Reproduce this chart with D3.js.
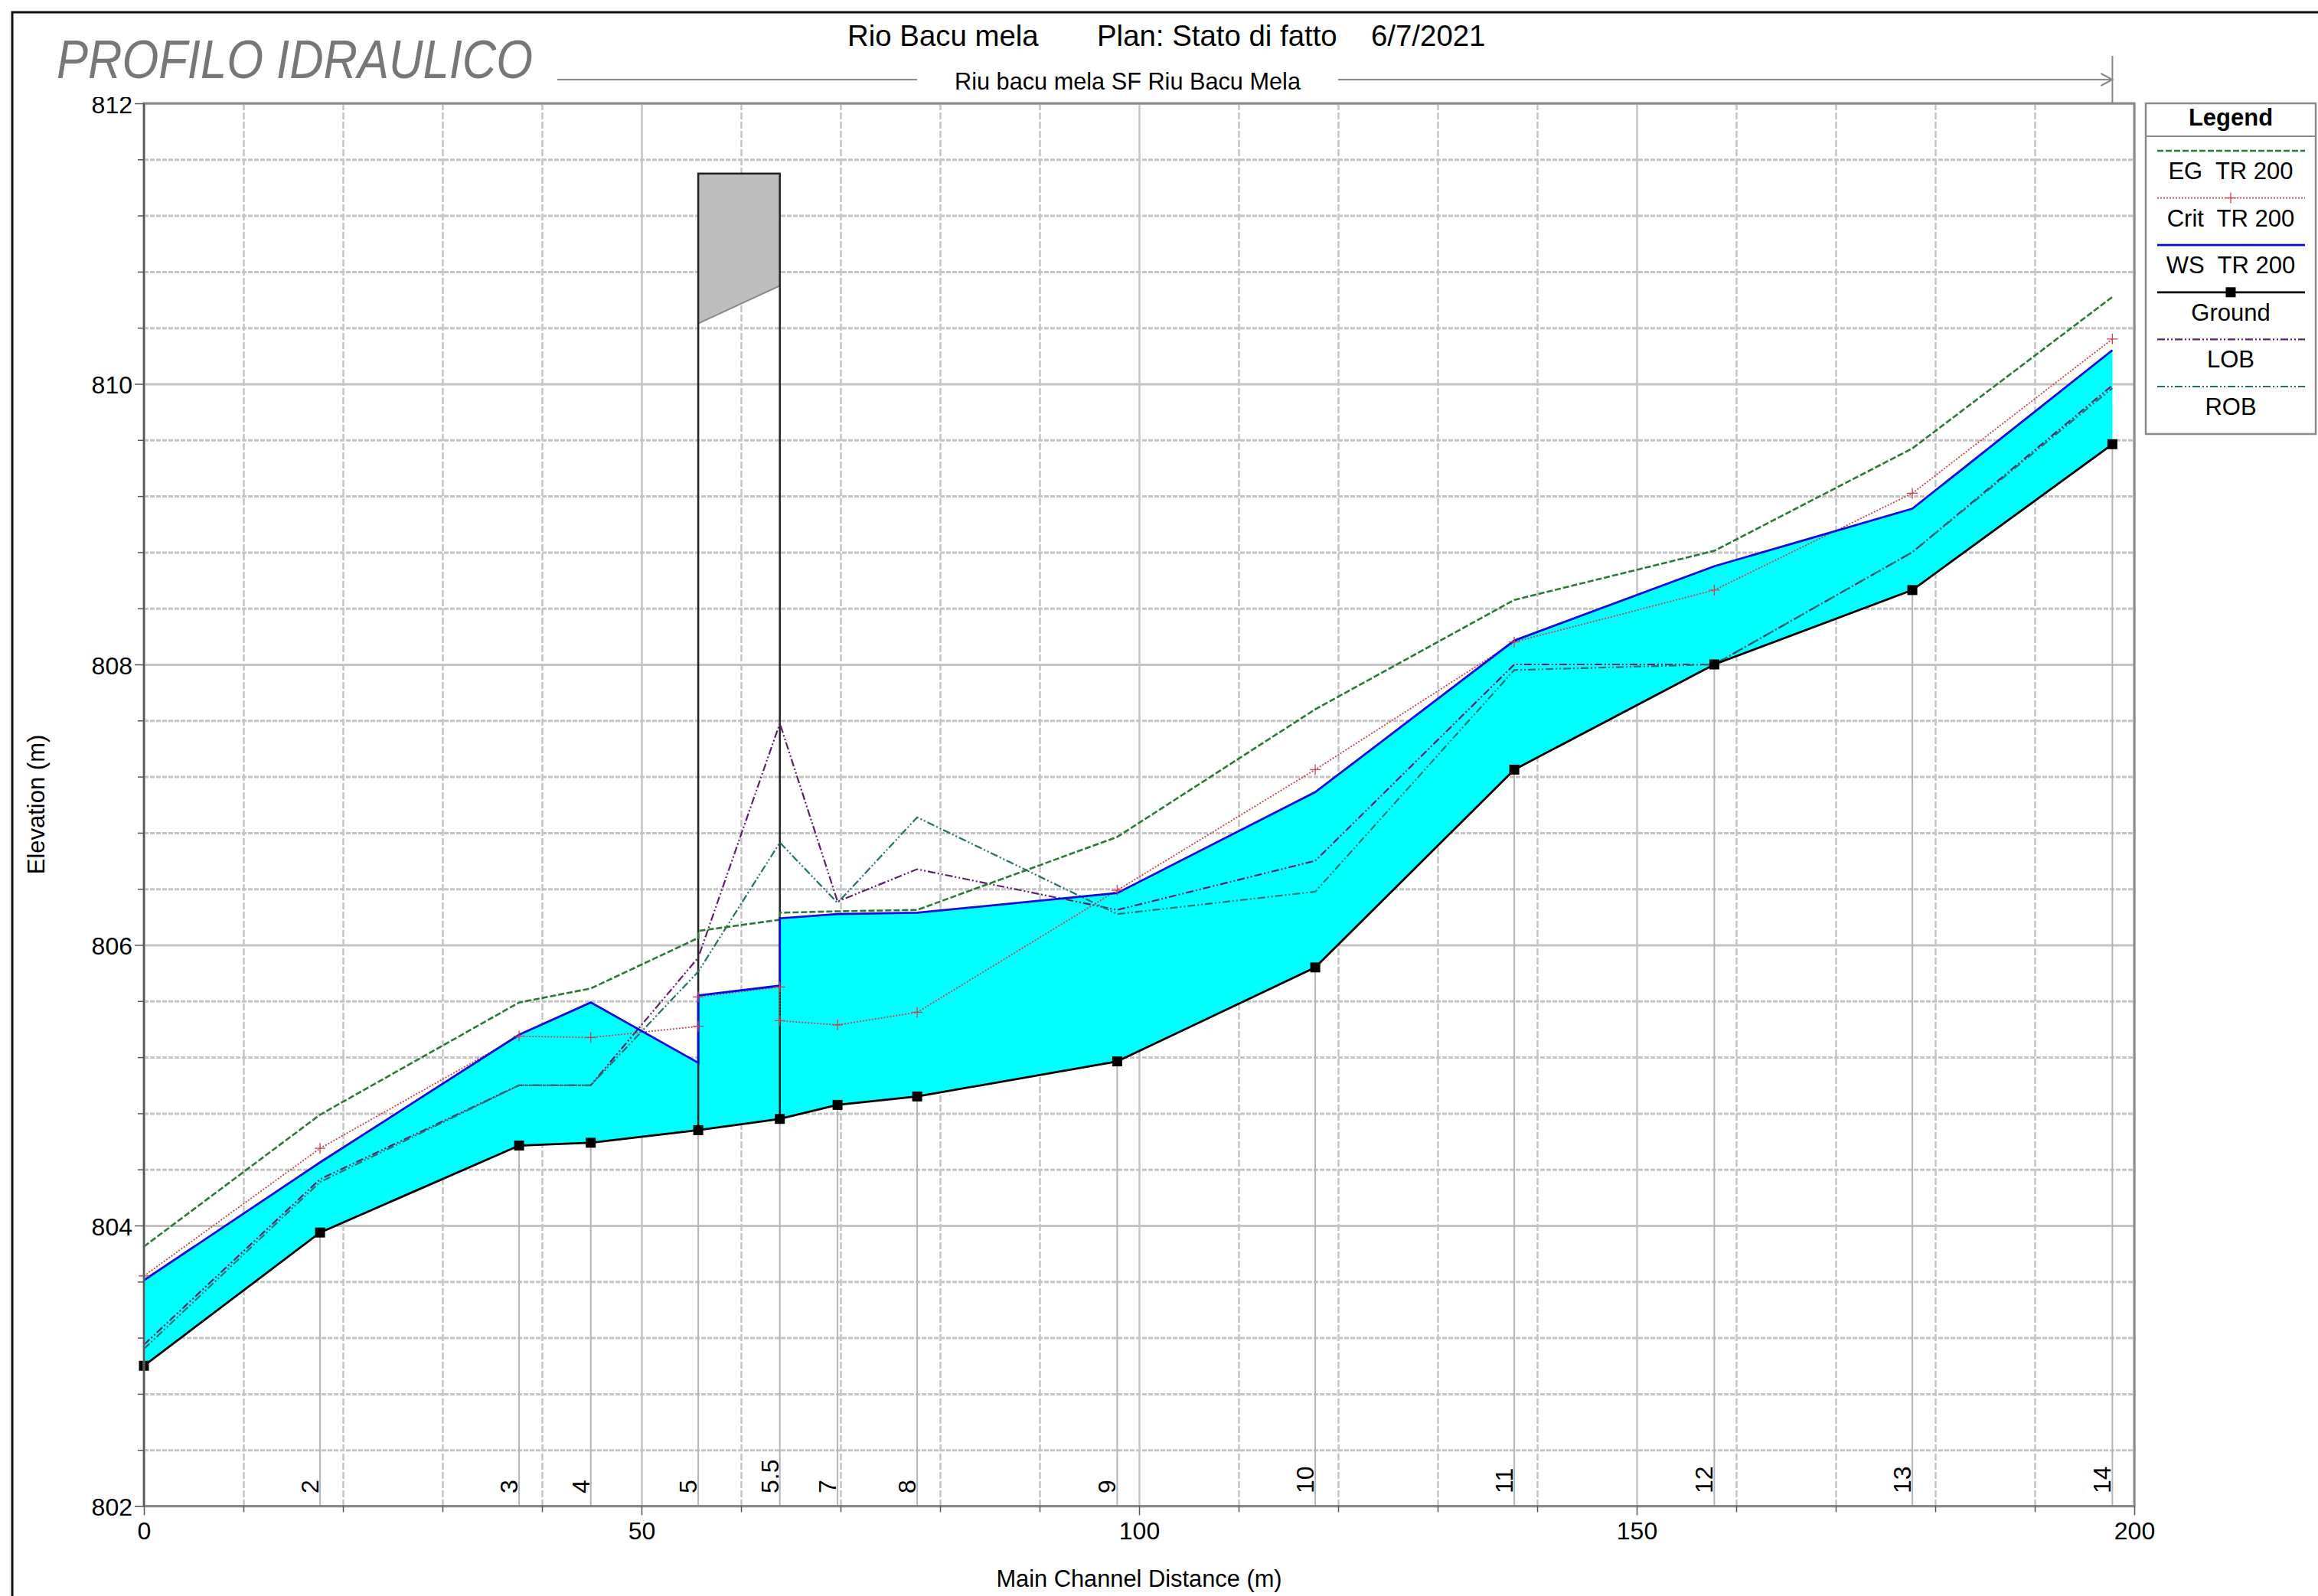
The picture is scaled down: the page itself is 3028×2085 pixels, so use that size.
<!DOCTYPE html>
<html>
<head>
<meta charset="utf-8">
<title>Profilo idraulico</title>
<script src="https://cdn.jsdelivr.net/npm/d3@7"></script>
<style>
  html, body { margin: 0; padding: 0; background: #fff; }
  svg { display: block; }
  text { font-family: "Liberation Sans", Arial, sans-serif; fill: #000; white-space: pre; }
</style>
</head>
<body>
<svg id="chart"></svg>
<script>
// 1] data -------------------------------------------//
const stationLabels = ["", "2", "3", "4", "5", "5.5", "7", "8", "9", "10", "11", "12", "13", "14"];
const stationDist = [0, 17.7, 37.7, 44.9, 55.7, 63.9, 69.7, 77.7, 97.8, 117.7, 137.7, 157.8, 177.7, 197.8];
// water profiles have two values at the bridge faces
const profileDist = [0, 17.7, 37.7, 44.9, 55.7, 55.7, 63.9, 63.9, 69.7, 77.7, 97.8, 117.7, 137.7, 157.8, 177.7, 197.8];

const ground = [803.0, 803.95, 804.57, 804.59, 804.68, 804.76, 804.86, 804.92, 805.17, 805.84, 807.25, 808.0, 808.53, 809.57];
const lob = [803.15, 804.33, 805.0, 805.0, 805.91, 807.58, 806.31, 806.54, 806.25, 806.6, 808.0, 808.0, 808.8, 809.99];
const rob = [803.12, 804.31, 805.0, 805.0, 805.81, 806.73, 806.3, 806.91, 806.22, 806.38, 807.96, 808.0, 808.8, 809.97];
const ws = [803.61, 804.45, 805.36, 805.59, 805.16, 805.64, 805.71, 806.19, 806.22, 806.23, 806.37, 807.09, 808.17, 808.7, 809.11, 810.24];
const eg = [803.85, 804.79, 805.59, 805.69, 806.05, 806.1, 806.18, 806.23, 806.24, 806.25, 806.77, 807.68, 808.46, 808.81, 809.54, 810.62];
const crit = [803.64, 804.55, 805.35, 805.34, 805.42, 805.63, 805.7, 805.46, 805.43, 805.52, 806.39, 807.25, 808.16, 808.53, 809.22, 810.32];

// bridge deck, low chord and top of road
const bridgeDist = [55.7, 63.9];
const bridgeTop = [811.5, 811.5];
const bridgeLow = [810.43, 810.7];

const xTicks = [0, 50, 100, 150, 200];
const yTicks = [802, 804, 806, 808, 810, 812];
const xMinor = d3.range(10, 200, 10).filter(d => d % 50 !== 0);
const yMinor = d3.range(802.4, 812, 0.4).filter(d => Math.abs(d % 2) > 0.01 && Math.abs(d % 2 - 2) > 0.01);

const legendNames = ["EG  TR 200", "Crit  TR 200", "WS  TR 200", "Ground", "LOB", "ROB"];

// 2] canvas and scales -------------------------------//
const width = 3028, height = 2085;
const left = 188, right = 2788, top_ = 135, bottom = 1967.5;

const svg = d3.select("#chart").attr("width", width).attr("height", height);

const xScale = d3.scaleLinear().domain([0, 200]).range([left, right]);
const yScale = d3.scaleLinear().domain([802, 812]).range([bottom, top_]);

const colors = { eg: "#2a7a34", crit: "#d0404c", ws: "#0a0ae0", ground: "#000", lob: "#5e1f6e", rob: "#22706c" };
const grid = "#c4c4c4";

const line = d3.line().x(d => xScale(d[0])).y(d => yScale(d[1]));
const pts = (xs, ys) => xs.map((d, i) => [d, ys[i]]);

// outer frame runs off the page on the right and bottom
svg.append("rect").attr("x", 16).attr("y", 16).attr("width", width).attr("height", height)
  .attr("fill", "none").attr("stroke", "#111").attr("stroke-width", 3);

// 3] grid --------------------------------------------//
function gridStyle(g, dash, sw) {
  g.select(".domain").remove();
  g.selectAll("text").remove();
  g.selectAll("line").attr("stroke", grid).attr("stroke-width", sw).attr("stroke-dasharray", dash);
}
svg.append("g").attr("transform", `translate(${left},0)`)
  .call(d3.axisLeft(yScale).tickValues(yMinor).tickSize(-(right - left)))
  .call(gridStyle, "6 2", 3);
svg.append("g").attr("transform", `translate(0,${top_})`)
  .call(d3.axisTop(xScale).tickValues(xMinor).tickSize(-(bottom - top_)))
  .call(gridStyle, "9 3", 2.5);
svg.append("g").attr("transform", `translate(${left},0)`)
  .call(d3.axisLeft(yScale).tickValues(yTicks).tickSize(-(right - left)))
  .call(gridStyle, null, 3);
svg.append("g").attr("transform", `translate(0,${top_})`)
  .call(d3.axisTop(xScale).tickValues(xTicks).tickSize(-(bottom - top_)))
  .call(gridStyle, null, 2.5);

// 4] cross section drop lines, water fill, bridge -----//
svg.append("g").selectAll("line").data(stationDist).join("line")
  .attr("x1", d => xScale(d)).attr("x2", d => xScale(d))
  .attr("y1", (d, i) => yScale(ground[i])).attr("y2", bottom)
  .attr("stroke", "#b4b4b4").attr("stroke-width", 2);

const waterOutline = pts(profileDist, ws).concat(pts(stationDist, ground).reverse());
svg.append("path").attr("d", line(waterOutline) + "Z").attr("fill", "#00ffff");

// deck, then the two piers down to the ground
const deck = pts(bridgeDist, bridgeTop).concat(pts(bridgeDist, bridgeLow).reverse());
svg.append("path").attr("d", line(deck) + "Z")
  .attr("fill", "#bebebe").attr("stroke", "none");
svg.append("path").attr("d", line(pts(bridgeDist, bridgeLow)))
  .attr("fill", "none").attr("stroke", "#888").attr("stroke-width", 2);
const pierPath = line([[bridgeDist[0], ground[4]], [bridgeDist[0], bridgeTop[0]], [bridgeDist[1], bridgeTop[1]], [bridgeDist[1], ground[5]]]);
svg.append("path").attr("d", pierPath).attr("fill", "none").attr("stroke", "#222").attr("stroke-width", 2.5);

// 5] profile lines -----------------------------------//
const series = [
  { x: stationDist, y: lob, color: colors.lob, dash: "10 3 2 3 2 3", sw: 2.2 },
  { x: stationDist, y: rob, color: colors.rob, dash: "10 3 2 3 2 3", sw: 2.2 },
  { x: profileDist, y: eg, color: colors.eg, dash: "8 3", sw: 2.6 },
  { x: profileDist, y: crit, color: colors.crit, dash: "2 2", sw: 1.8 },
  { x: profileDist, y: ws, color: colors.ws, dash: null, sw: 2.8 },
  { x: stationDist, y: ground, color: colors.ground, dash: null, sw: 2.8 },
];
series.forEach(s => {
  svg.append("path").attr("d", line(pts(s.x, s.y)))
    .attr("fill", "none").attr("stroke", s.color)
    .attr("stroke-width", s.sw).attr("stroke-dasharray", s.dash);
});

const plusPath = r => `M${-r},0H${r}M0,${-r}V${r}`;
svg.append("g").selectAll("path").data(pts(profileDist, crit)).join("path")
  .attr("d", plusPath(7))
  .attr("transform", d => `translate(${xScale(d[0])},${yScale(d[1])})`)
  .attr("fill", "none").attr("stroke", colors.crit).attr("stroke-width", 1.3);

svg.append("g").selectAll("rect").data(pts(stationDist, ground)).join("rect")
  .attr("x", d => xScale(d[0]) - 6.5).attr("y", d => yScale(d[1]) - 6.5)
  .attr("width", 13).attr("height", 13).attr("fill", "#000");

// 6] station labels ----------------------------------//
svg.append("g").selectAll("text").data(stationDist).join("text")
  .attr("transform", d => `translate(${xScale(d) - 2},1951) rotate(-90)`)
  .attr("font-size", 32)
  .text((d, i) => stationLabels[i]);

// 7] axes and plot frame -----------------------------//
svg.append("rect").attr("x", left).attr("y", top_)
  .attr("width", right - left).attr("height", bottom - top_)
  .attr("fill", "none").attr("stroke", "#8a8a8a").attr("stroke-width", 3);
svg.append("line").attr("x1", left).attr("x2", left).attr("y1", top_).attr("y2", bottom)
  .attr("stroke", "#444").attr("stroke-width", 1.5);

function axisStyle(g) {
  g.select(".domain").remove();
  g.selectAll("line").attr("stroke", "#555").attr("stroke-width", 1.5);
  g.selectAll("text").attr("font-size", 32).attr("fill", "#000").attr("font-family", '"Liberation Sans", Arial, sans-serif');
}
// top label is cut by the header band in the original
svg.append("clipPath").attr("id", "axis-clip").append("rect")
  .attr("x", -left).attr("y", 127).attr("width", width).attr("height", height);
svg.append("g").attr("transform", `translate(${left},0)`).attr("clip-path", "url(#axis-clip)")
  .call(d3.axisLeft(yScale).tickValues(yTicks).tickSize(12).tickPadding(3).tickFormat(d3.format("d")))
  .call(axisStyle)
  .call(g => g.selectAll("text").attr("dy", "0.38em"));
svg.append("g").attr("transform", `translate(${left},0)`)
  .call(d3.axisLeft(yScale).tickValues(yMinor).tickSize(8).tickFormat(""))
  .call(axisStyle);
svg.append("g").attr("transform", `translate(0,${bottom})`)
  .call(d3.axisBottom(xScale).tickValues(xTicks).tickSize(12).tickPadding(9).tickFormat(d3.format("d")))
  .call(axisStyle);
svg.append("g").attr("transform", `translate(0,${bottom})`)
  .call(d3.axisBottom(xScale).tickValues(xMinor).tickSize(8).tickFormat(""))
  .call(axisStyle);

svg.append("text").attr("transform", "translate(58,1051) rotate(-90)")
  .attr("text-anchor", "middle").attr("font-size", 31).text("Elevation (m)");
svg.append("text").attr("x", 1488).attr("y", 2073)
  .attr("text-anchor", "middle").attr("font-size", 30.8).text("Main Channel Distance (m)");

// 8] header ------------------------------------------//
svg.append("text").attr("x", 74).attr("y", 102).attr("font-size", 71)
  .attr("textLength", 622).attr("lengthAdjust", "spacingAndGlyphs")
  .attr("font-style", "italic").style("fill", "#777").text("PROFILO IDRAULICO");
svg.append("text").attr("x", 1107).attr("y", 60).attr("font-size", 38.4).text("Rio Bacu mela");
svg.append("text").attr("x", 1433).attr("y", 60).attr("font-size", 38.4).text("Plan: Stato di fatto");
svg.append("text").attr("x", 1791).attr("y", 60).attr("font-size", 38.4).text("6/7/2021");
svg.append("text").attr("x", 1473).attr("y", 117).attr("font-size", 30.7)
  .attr("text-anchor", "middle").text("Riu bacu mela SF Riu Bacu Mela");

const arrowX = xScale(stationDist[stationDist.length - 1]);
const headLine = d3.line();
[[[728, 104], [1198, 104]], [[1748, 104], [arrowX, 104]], [[arrowX, 73], [arrowX, top_]],
 [[arrowX - 15, 96], [arrowX, 104], [arrowX - 15, 112]]].forEach(p => {
  svg.append("path").attr("d", headLine(p)).attr("fill", "none")
    .attr("stroke", "#888").attr("stroke-width", 2);
});

// 9] legend ------------------------------------------//
const legendX = 2803, legendW = 222, legendTop = 135, legendH = 432;
const legend = svg.append("g");
legend.append("rect").attr("x", legendX).attr("y", legendTop).attr("width", legendW).attr("height", legendH)
  .attr("fill", "#fff").attr("stroke", "#8a8a8a").attr("stroke-width", 2.5);
legend.append("line").attr("x1", legendX).attr("x2", legendX + legendW).attr("y1", 178).attr("y2", 178)
  .attr("stroke", "#8a8a8a").attr("stroke-width", 2);
legend.append("text").attr("x", 2914).attr("y", 164).attr("text-anchor", "middle")
  .attr("font-size", 31).attr("font-weight", "bold").text("Legend");

const legendStyle = [
  { color: colors.eg, dash: "8 3", sw: 2.6 },
  { color: colors.crit, dash: "2 2", sw: 1.8 },
  { color: colors.ws, dash: null, sw: 2.8 },
  { color: colors.ground, dash: null, sw: 2.8 },
  { color: colors.lob, dash: "10 3 2 3 2 3", sw: 2.2 },
  { color: colors.rob, dash: "10 3 2 3 2 3", sw: 2.2 },
];
const legendRow = d3.scaleLinear().domain([0, 5]).range([197, 505]);
legendNames.forEach((name, i) => {
  const ly = legendRow(i);
  legend.append("line").attr("x1", 2818).attr("x2", 3011).attr("y1", ly).attr("y2", ly)
    .attr("stroke", legendStyle[i].color).attr("stroke-width", legendStyle[i].sw)
    .attr("stroke-dasharray", legendStyle[i].dash);
  legend.append("text").attr("x", 2914).attr("y", ly + 37).attr("text-anchor", "middle")
    .attr("font-size", 31).text(name);
});
legend.append("path").attr("d", plusPath(7))
  .attr("transform", `translate(2914,${legendRow(1)})`)
  .attr("stroke", colors.crit).attr("stroke-width", 1.3);
legend.append("rect").attr("x", 2907.5).attr("y", legendRow(3) - 6.5)
  .attr("width", 13).attr("height", 13).attr("fill", "#000");
</script>
</body>
</html>
